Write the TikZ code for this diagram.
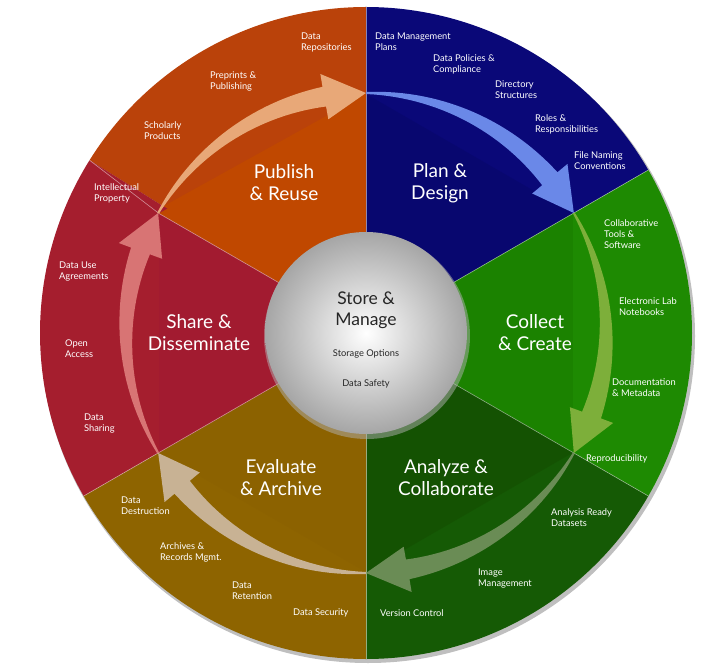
\documentclass[tikz,border=0pt]{standalone}
\usepackage{fontspec}
\setmainfont{Lato}
\begin{document}
\begin{tikzpicture}[x=1pt,y=1pt,
  small/.style={anchor=north west,inner sep=0pt,text=white,font=\fontsize{9.3}{11}\selectfont,align=left},
  big/.style={text=white,font=\fontsize{19}{22}\selectfont,align=center,inner sep=0pt},
  ctr/.style={text=black!85,align=center,inner sep=0pt}]
\useasboundingbox (-366,-333) rectangle (361,333);
\def\R{326}\def\H{239}
\newcommand\sector[4]{%
  \fill[#3] (0,0) -- (#1:\R) arc[start angle=#1,end angle=#2,radius=\R] -- cycle;
  \fill[#4] (0,0) -- (#1:\H) -- (#2:\H) -- cycle;}
\definecolor{orR}{HTML}{BA420A}\definecolor{orI}{HTML}{C04800}
\definecolor{nvR}{HTML}{0A0878}\definecolor{nvI}{HTML}{08076F}
\definecolor{grR}{HTML}{1E8A02}\definecolor{grI}{HTML}{1B8200}
\definecolor{dgR}{HTML}{155A05}\definecolor{dgI}{HTML}{145202}
\definecolor{brR}{HTML}{8E6400}\definecolor{brI}{HTML}{8C6200}
\definecolor{rdR}{HTML}{A51E2E}\definecolor{rdI}{HTML}{A21B30}
\definecolor{aOr}{HTML}{E8A878}\definecolor{aBl}{HTML}{6A88E8}
\definecolor{aGr}{HTML}{7DAF3A}\definecolor{aDg}{HTML}{6A8C55}
\definecolor{aBr}{HTML}{C8B294}\definecolor{aRd}{HTML}{D87474}
\fill[black!25] (2,-3) circle (\R+1);
\sector{90}{148}{orR}{orI}
\sector{30}{90}{nvR}{nvI}
\sector{-30}{30}{grR}{grI}
\sector{-90}{-30}{dgR}{dgI}
\sector{210}{270}{brR}{brI}
\sector{148}{210}{rdR}{rdI}
\fill[orI] (0,0) -- (90:\H) -- (150:\H) -- cycle;
\fill[rdI] (0,0) -- (150:\H) -- (210:\H) -- cycle;
\foreach \a in {30,90,210,270,330}{\draw[white,opacity=0.5,line width=0.6pt] (0,0) -- (\a:\R);}
\draw[white,opacity=0.5,line width=0.6pt] (0,0) -- (150:\H) -- (148:\R);
\newcommand\cycarrow[2]{\fill[#1] plot[domain=0:1,samples=30,variable=\t] ({#2-50*\t}:{240+1+9*\t}) -- ({#2-50}:{263}) -- ({#2-60}:{240}) -- ({#2-50}:{217}) -- plot[domain=1:0,samples=30,variable=\t] ({#2-50*\t}:{240-1-9*\t}) -- cycle;}
\cycarrow{aOr}{150}
\cycarrow{aBl}{90}
\cycarrow{aGr}{30}
\cycarrow{aDg}{-30}
\cycarrow{aBr}{-90}
\cycarrow{aRd}{210}
\fill[black!30,opacity=0.5] (1,-3) circle (103);
\shade[inner color=white,outer color=black!35] (0,0) circle (101);
\node[big] (pub) at (-82,150) {Publish\\\& Reuse};
\node[big] (plan) at (74,150) {Plan \&\\Design};
\node[big] (col) at (169,0) {Collect\\\& Create};
\node[big] (ana) at (80,-145) {Analyze \&\\Collaborate};
\node[big] (eva) at (-85,-145) {Evaluate\\\& Archive};
\node[big] (sha) at (-167,0) {Share \&\\Disseminate};
\node[ctr,font=\fontsize{17.5}{21}\selectfont] (sm) at (0,23) {Store \&\\Manage};
\node[ctr,font=\fontsize{9.3}{10}\selectfont] (so) at (0,-21) {Storage Options};
\node[ctr,font=\fontsize{9.3}{10}\selectfont] (ds) at (0,-51) {Data Safety};
\node[small] (l1) at (-65,300) {Data\\Repositories};
\node[small] (l2) at (9,300) {Data Management\\Plans};
\node[small] (l3) at (67,279) {Data Policies \&\\Compliance};
\node[small] (l4) at (129,252) {Directory\\Structures};
\node[small] (l5) at (169,219) {Roles \&\\Responsibilities};
\node[small] (l6) at (208,182) {File Naming\\Conventions};
\node[small] (l7) at (238,114) {Collaborative\\Tools \&\\Software};
\node[small] (l8) at (253,36) {Electronic Lab\\Notebooks};
\node[small] (l9) at (246,-45) {Documentation\\\& Metadata};
\node[small] (l10) at (220,-121) {Reproducibility};
\node[small] (l11) at (185,-175) {Analysis Ready\\Datasets};
\node[small] (l12) at (112,-236) {Image\\Management};
\node[small] (l13) at (14,-276) {Version Control};
\node[small] (l14) at (-73,-276) {Data Security};
\node[small] (l15) at (-134,-249) {Data\\Retention};
\node[small] (l16) at (-206,-209) {Archives \&\\Records Mgmt.};
\node[small] (l17) at (-245,-164) {Data\\Destruction};
\node[small] (l18) at (-282,-81) {Data\\Sharing};
\node[small] (l19) at (-301,-7) {Open\\Access};
\node[small] (l20) at (-307,71) {Data Use\\Agreements};
\node[small] (l21) at (-272,150) {Intellectual\\Property};
\node[small] (l22) at (-222,212) {Scholarly\\Products};
\node[small] (l23) at (-156,261) {Preprints \&\\Publishing};
\end{tikzpicture}
\end{document}
